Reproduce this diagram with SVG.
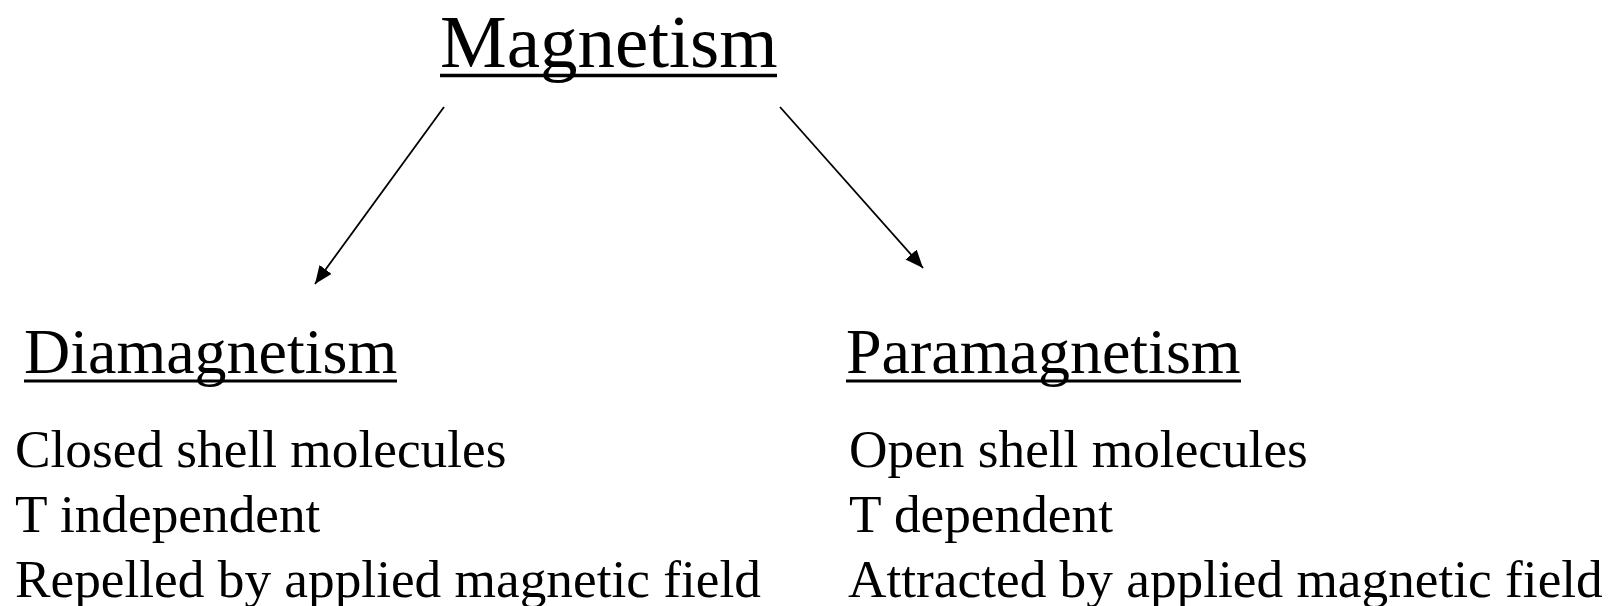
<svg xmlns="http://www.w3.org/2000/svg" width="1609" height="606" viewBox="0 0 1609 606">
<style>
text { font-family: "Liberation Serif", "Times New Roman", serif; fill: #000; }
.title { font-size: 75px; }
.head { font-size: 64px; }
.body { font-size: 53.3px; }
.ul { stroke: #000; }
.conn { stroke: #000; stroke-width: 1.8; fill: none; }
</style>
<defs>
<marker id="arrow" markerUnits="userSpaceOnUse" markerWidth="22" markerHeight="18" refX="18" refY="7.5" orient="auto">
<path d="M0,0 L18,7.5 L0,15 Z" fill="#000"/>
</marker>
</defs>
<rect width="1609" height="606" fill="#fff"/>
<g id="connectors">
<line class="conn" x1="444" y1="107" x2="315" y2="284" marker-end="url(#arrow)"/>
<line class="conn" x1="780" y1="107" x2="923" y2="268" marker-end="url(#arrow)"/>
</g>
<g id="magnetism">
<text class="title" x="440" y="67">Magnetism</text>
<line class="ul" x1="440" y1="75.5" x2="777" y2="75.5" stroke-width="3.5"/>
</g>
<g id="diamagnetism">
<text class="head" x="24" y="373">Diamagnetism</text>
<line class="ul" x1="24" y1="381" x2="397" y2="381" stroke-width="3"/>
<text class="body" x="15" y="467">Closed shell molecules</text>
<text class="body" x="15" y="532">T independent</text>
<text class="body" x="15" y="597">Repelled by applied magnetic field</text>
</g>
<g id="paramagnetism">
<text class="head" x="846" y="373">Paramagnetism</text>
<line class="ul" x1="846" y1="381" x2="1241" y2="381" stroke-width="3"/>
<text class="body" x="849" y="467">Open shell molecules</text>
<text class="body" x="849" y="532">T dependent</text>
<text class="body" x="848" y="597">Attracted by applied magnetic field</text>
</g>
</svg>
